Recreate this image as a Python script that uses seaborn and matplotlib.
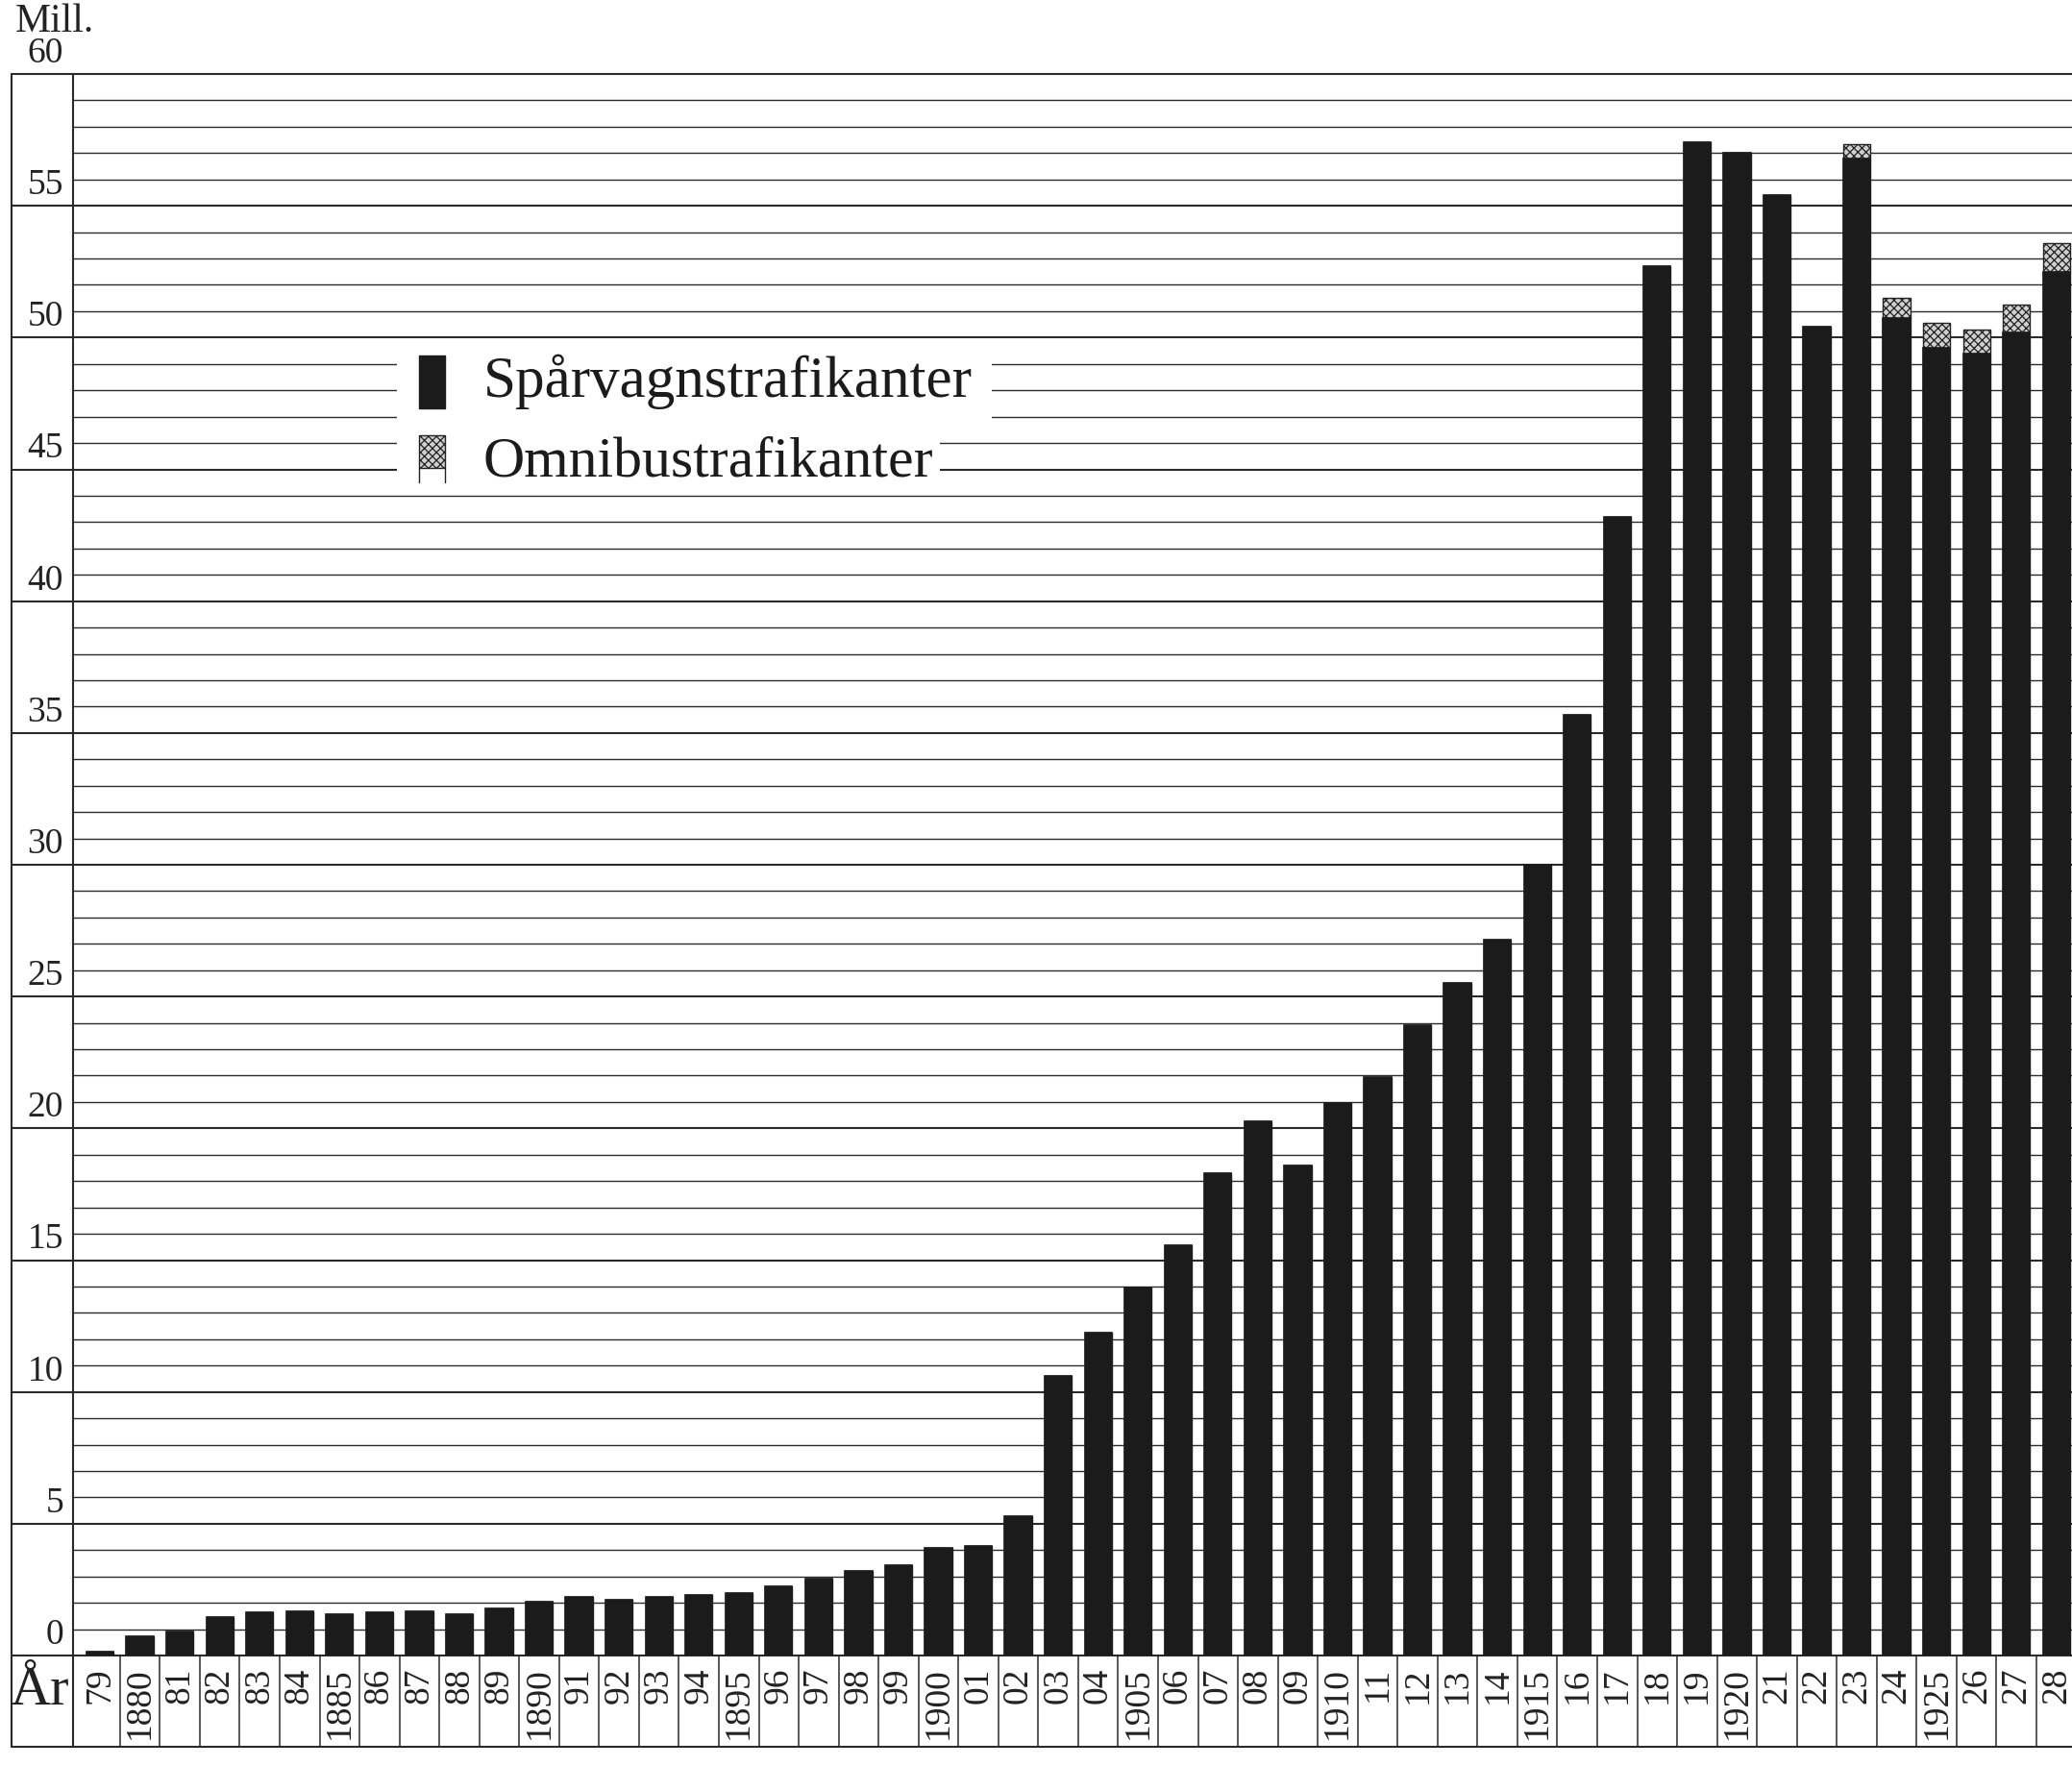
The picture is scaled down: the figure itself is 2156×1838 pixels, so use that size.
import pandas as pd
import numpy as np
import seaborn as sns
import matplotlib.pyplot as plt
from matplotlib.patches import Rectangle
from matplotlib.lines import Line2D

# data: passengers (millions) per year
years = list(range(1879, 1929))
tram = [0.16, 0.74, 0.92, 1.46, 1.64, 1.66, 1.58, 1.65, 1.66, 1.55,
        1.77, 2.03, 2.22, 2.12, 2.22, 2.31, 2.38, 2.61, 2.90, 3.22,
        3.43, 4.10, 4.15, 5.30, 10.6, 12.25, 13.95, 15.55, 18.3, 20.25,
        18.6, 20.95, 21.95, 23.9, 25.5, 27.15, 30.0, 35.7, 43.2, 52.7,
        57.4, 57.0, 55.4, 50.4, 56.8, 50.75, 49.6, 49.4, 50.2, 52.5]
omnibus = [0.0] * 44 + [0.55, 0.75, 0.95, 0.9, 1.05, 1.1]
year_labels = [str(y) if y % 5 == 0 else str(y)[2:] for y in years]

df = pd.DataFrame({"year": [str(y) for y in years], "tram": tram, "omnibus": omnibus})
df["total"] = df["tram"] + df["omnibus"]

sns.set_style("white")
plt.rcParams["font.family"] = ["Liberation Serif", "DejaVu Serif"]
plt.rcParams["hatch.linewidth"] = 0.9

W, H = 2156, 1838
fig = plt.figure(figsize=(W / 100, H / 100), dpi=100)
fig.patch.set_facecolor("white")

def fx(x):
    return x / W

def fy(y):
    return 1 - y / H

left_px, top_px, base_px = 76, 77, 1723
ax = fig.add_axes([fx(left_px), fy(base_px), 1 - fx(left_px), fy(top_px) - fy(base_px)])
ax.set_facecolor("white")

order = df["year"].tolist()
sns.barplot(data=df, x="year", y="total", order=order, color="#d0d0d0", saturation=1,
            width=0.68, errorbar=None, hatch="xxxx", edgecolor="#222222", linewidth=1.0,
            ax=ax, zorder=3)
sns.barplot(data=df, x="year", y="tram", order=order, color="#1b1b1b", saturation=1,
            width=0.68, errorbar=None, edgecolor="#1b1b1b", linewidth=1.2, ax=ax, zorder=4)

ax.set_xlim(-0.674, 49.39)
ax.set_ylim(0, 60)
ax.set_axis_off()

line_col = "#2a2a2a"
unit_px = (base_px - top_px) / 60.0
row_bottom = -(1818 - base_px) / unit_px
xmin_frac = (12 - left_px) / (W - left_px)

# horizontal rules: minor every million, major every five
for v in range(1, 60):
    if v % 5:
        ax.axhline(v, color=line_col, lw=1.0, zorder=1)
for v in range(0, 61, 5):
    ax.axhline(v, xmin=xmin_frac, xmax=1, color=line_col, lw=1.5, zorder=1, clip_on=False)
ax.axhline(row_bottom, xmin=xmin_frac, xmax=1, color=line_col, lw=1.5, clip_on=False)

# vertical frame lines
ax.axvline(-0.674, ymin=row_bottom / 60, ymax=1, color=line_col, lw=1.5, clip_on=False)
fig.add_artist(Line2D([fx(12), fx(12)], [fy(top_px), fy(1818)], color=line_col, lw=1.5))
ax.vlines(np.arange(len(years) - 1) + 0.5, row_bottom, 0, color=line_col, lw=1.1, clip_on=False)

# y labels
lab_x = (66 - left_px) / (W - left_px)
for v in range(0, 61, 5):
    ax.text(lab_x, v + 0.15, str(v), transform=ax.get_yaxis_transform(), ha="right",
            va="bottom", fontsize=27, color="#222222", clip_on=False)

# year labels
for i, lab in enumerate(year_labels):
    ax.text(i, -0.45, lab, rotation=90, ha="center", va="top", fontsize=27,
            color="#222222", clip_on=False)

fig.text(fx(16), fy(33), "Mill.", fontsize=30, color="#222222", va="baseline", ha="left")
fig.text(fx(41), fy(1760), "År", fontsize=42, color="#222222", va="center", ha="center")

# legend
fig.add_artist(Rectangle((fx(413), fy(445)), fx(1032) - fx(413), fy(365) - fy(445),
                         facecolor="white", edgecolor="none", zorder=5))
fig.add_artist(Rectangle((fx(413), fy(500)), fx(978) - fx(413), fy(445) - fy(500),
                         facecolor="white", edgecolor="none", zorder=5))
fig.add_artist(Rectangle((fx(436), fy(425)), fx(463) - fx(436), fy(370) - fy(425),
                         facecolor="#1b1b1b", edgecolor="#1b1b1b", zorder=6))
fig.add_artist(Rectangle((fx(436), fy(487)), fx(463) - fx(436), fy(453) - fy(487),
                         facecolor="#d0d0d0", edgecolor="#222222", hatch="xxxx", lw=1.0, zorder=6))
fig.add_artist(Line2D([fx(436), fx(436)], [fy(487), fy(502)], color="#222222", lw=1.0, zorder=6))
fig.add_artist(Line2D([fx(463), fx(463)], [fy(487), fy(502)], color="#222222", lw=1.0, zorder=6))
fig.text(fx(503), fy(413), "Spårvagnstrafikanter", fontsize=44, color="#1b1b1b",
         va="baseline", ha="left", zorder=7)
fig.text(fx(503), fy(495), "Omnibustrafikanter", fontsize=43, color="#1b1b1b",
         va="baseline", ha="left", zorder=7)

fig.savefig("out.png", dpi=100, facecolor="white")
